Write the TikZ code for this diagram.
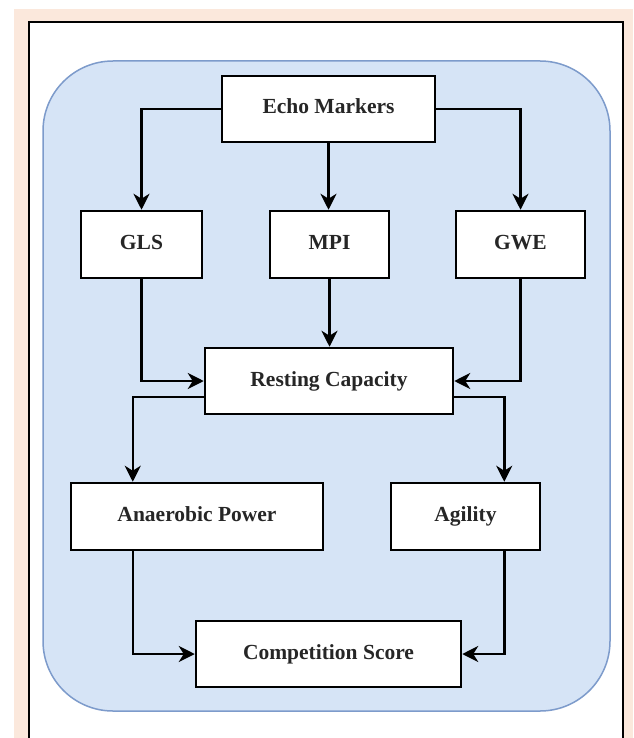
\documentclass[tikz,border=0pt]{standalone}
\usepackage{fontspec}
\setmainfont{Liberation Serif}
\usetikzlibrary{arrows.meta}
\definecolor{peach}{HTML}{FBE8DC}
\definecolor{panelfill}{HTML}{D6E4F6}
\definecolor{paneledge}{HTML}{7D9BCB}
\begin{document}
\begin{tikzpicture}[x=1pt,y=-1pt,
  box/.style={draw=black, fill=white, line width=2.5pt, inner sep=0pt,
    text height=14pt, text depth=4pt,
    font=\fontsize{21.5}{24}\selectfont\bfseries, text=black!85},
  conn/.style={draw=black, line width=2.5pt, -{Stealth[length=16pt,width=16pt,inset=5pt]}}]
% background and margins
\useasboundingbox (0,0) rectangle (633,738);
\fill[white] (0,0) rectangle (633,738);
\fill[peach] (14,9) rectangle (633,738);
\fill[white] (29,22) rectangle (623,738);
\draw[line width=2.2pt] (29,738) -- (29,22) -- (623,22) -- (623,738);
\draw[paneledge, fill=panelfill, line width=1.5pt, rounded corners=70pt] (43,61) rectangle (610,711);
% nodes
\node[box, minimum width=213pt, minimum height=66pt] (echo) at (328.5,109) {Echo Markers};
\node[box, minimum width=121pt, minimum height=67pt] (gls) at (141.5,244.5) {GLS};
\node[box, minimum width=119pt, minimum height=67pt] (mpi) at (329.5,244.5) {MPI};
\node[box, minimum width=129pt, minimum height=67pt] (gwe) at (520.5,244.5) {GWE};
\node[box, minimum width=248pt, minimum height=66pt] (rest) at (329,381) {Resting Capacity};
\node[box, minimum width=252pt, minimum height=67pt] (anaer) at (197,516.5) {Anaerobic Power};
\node[box, minimum width=149pt, minimum height=67pt] (agil) at (465.5,516.5) {Agility};
\node[box, minimum width=265pt, minimum height=66pt] (comp) at (328.5,654) {Competition Score};
% connectors
\draw[conn] (echo.west) -| (gls.north);
\draw[conn] (echo.east) -| (gwe.north);
\draw[conn] (echo.south) -- (echo.south |- mpi.north);
\draw[conn] (gls.south) |- (rest.west);
\draw[conn] (gwe.south) |- (rest.east);
\draw[conn] (mpi.south) -- (mpi.south |- rest.north);
\coordinate (aTop) at ([xshift=63pt]anaer.north west);
\coordinate (aBot) at ([xshift=63pt]anaer.south west);
\coordinate (gTop) at ([xshift=-37pt]agil.north east);
\coordinate (gBot) at ([xshift=-37pt]agil.south east);
\draw[conn] ([yshift=-16pt]rest.west) -| (aTop);
\draw[conn] ([yshift=-16pt]rest.east) -| (gTop);
\draw[conn] (aBot) |- (comp.west);
\draw[conn] (gBot) |- (comp.east);
\end{tikzpicture}
\end{document}
